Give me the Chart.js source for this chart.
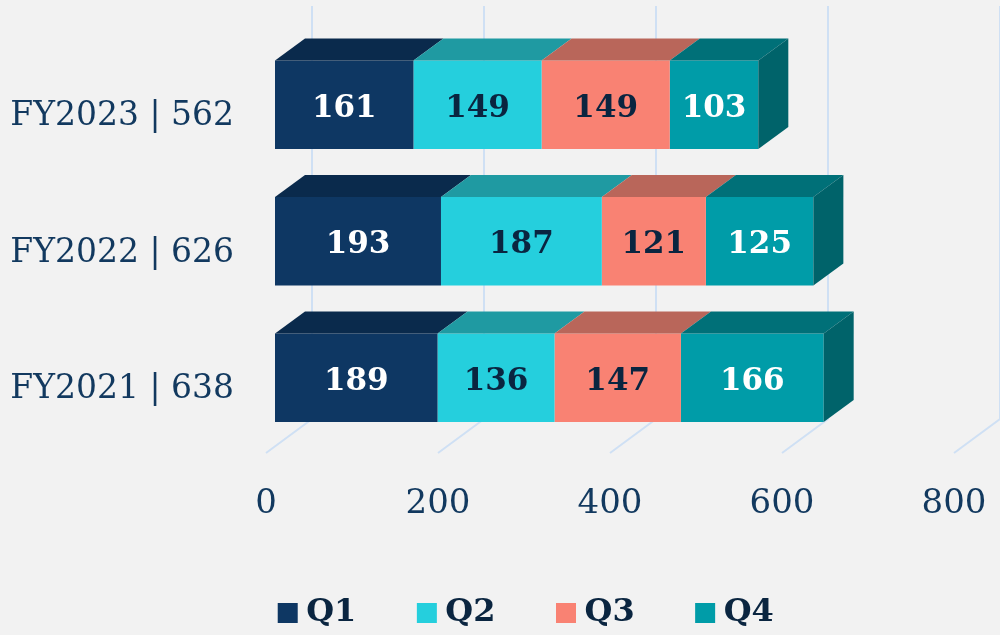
<!DOCTYPE html>
<html>
<head>
<meta charset="utf-8">
<script src="https://cdn.jsdelivr.net/npm/chart.js@4"></script>
<style>
  html, body { margin: 0; padding: 0; background: #f2f2f2; }
  #wrap { width: 1000px; height: 635px; }
</style>
</head>
<body>
<div id="wrap"><canvas id="chart"></canvas></div>
<script>
const categories = ['FY2023 | 562', 'FY2022 | 626', 'FY2021 | 638'];
const seriesNames = ['Q1', 'Q2', 'Q3', 'Q4'];
const q1 = [161, 193, 189];
const q2 = [149, 187, 136];
const q3 = [149, 121, 147];
const q4 = [103, 125, 166];

const frontColors = ['#0e3763', '#25cfdd', '#f98273', '#009ca8'];
const topColors = ['#0a2a4c', '#1f9aa2', '#b9665a', '#007078'];
const sideColor = '#00636a';
const labelColors = ['#ffffff', '#0a2540', '#0a2540', '#ffffff'];
const gridColor = '#cfe0f4';
const FONT = '"DejaVu Serif", "Liberation Serif", serif';

const depthX = 30, depthY = 22;

// back wall + floor lines of the fake 3D box, behind the bars
const gridPlugin = {
  id: 'grid3d',
  // legend sits right of the canvas centre in the original
  afterLayout(chart) {
    chart.legend.left += 48;
    chart.legend.right += 48;
  },
  beforeDatasetsDraw(chart) {
    const { ctx, scales: { x } } = chart;
    ctx.save();
    ctx.strokeStyle = gridColor;
    ctx.lineWidth = 2;
    x.ticks.forEach(t => {
      const px = x.getPixelForValue(t.value);
      ctx.beginPath();
      ctx.moveTo(px - 9, 453);
      ctx.lineTo(px + 37, 419);
      ctx.lineTo(px + 37, 6);
      ctx.stroke();
    });
    ctx.restore();
  }
};

// top and side faces, then the value labels
const barsPlugin = {
  id: 'bars3d',
  afterDatasetsDraw(chart) {
    const { ctx } = chart;
    const last = chart.data.datasets.length - 1;
    ctx.save();
    chart.data.datasets.forEach((ds, i) => {
      chart.getDatasetMeta(i).data.forEach(bar => {
        const top = bar.y - bar.height / 2;
        ctx.fillStyle = topColors[i];
        ctx.beginPath();
        ctx.moveTo(bar.base, top);
        ctx.lineTo(bar.x, top);
        ctx.lineTo(bar.x + depthX, top - depthY);
        ctx.lineTo(bar.base + depthX, top - depthY);
        ctx.closePath();
        ctx.fill();
        if (i === last) {
          ctx.fillStyle = sideColor;
          ctx.beginPath();
          ctx.moveTo(bar.x, top);
          ctx.lineTo(bar.x + depthX, top - depthY);
          ctx.lineTo(bar.x + depthX, top - depthY + bar.height);
          ctx.lineTo(bar.x, top + bar.height);
          ctx.closePath();
          ctx.fill();
        }
      });
    });
    ctx.font = 'bold 31px ' + FONT;
    ctx.textAlign = 'center';
    ctx.textBaseline = 'middle';
    chart.data.datasets.forEach((ds, i) => {
      ctx.fillStyle = labelColors[i];
      chart.getDatasetMeta(i).data.forEach((bar, j) => {
        ctx.fillText(ds.data[j], (bar.base + bar.x) / 2, bar.y + 4);
      });
    });
    ctx.restore();
  }
};

new Chart(document.getElementById('chart'), {
  type: 'bar',
  data: {
    labels: categories,
    datasets: [q1, q2, q3, q4].map((d, i) => ({
      label: seriesNames[i],
      data: d,
      backgroundColor: frontColors[i],
      borderWidth: 0
    }))
  },
  plugins: [gridPlugin, barsPlugin],
  options: {
    indexAxis: 'y',
    responsive: true,
    maintainAspectRatio: false,
    animation: false,
    categoryPercentage: 1,
    barPercentage: 0.648,
    layout: { padding: { top: 36.5, right: 37, bottom: -4, left: 0 } },
    scales: {
      x: {
        stacked: true,
        min: 0,
        max: 800,
        grid: { display: false, drawTicks: false },
        border: { display: false },
        afterFit: s => { s.height = 83; s.paddingLeft = 0; s.paddingRight = 0; },
        ticks: {
          stepSize: 200,
          color: '#12395f',
          padding: 38,
          labelOffset: -9,
          maxRotation: 0,
          font: { family: FONT, size: 34 }
        }
      },
      y: {
        stacked: true,
        grid: { display: false, drawTicks: false },
        border: { display: false },
        afterFit: s => { s.width = 275; s.paddingTop = 0; s.paddingBottom = 0; },
        ticks: {
          color: '#12395f',
          padding: 41,
          labelOffset: 12,
          font: { family: FONT, size: 33 }
        }
      }
    },
    plugins: {
      tooltip: { enabled: false },
      legend: {
        position: 'bottom',
        labels: {
          // narrow box width with a 20px rect marker keeps the text close to the square
          usePointStyle: true,
          pointStyle: 'rect',
          boxWidth: 5,
          boxHeight: 20,
          padding: 68,
          color: '#0a2540',
          font: { family: FONT, size: 32, weight: 'bold' }
        }
      }
    }
  }
});
</script>
</body>
</html>
